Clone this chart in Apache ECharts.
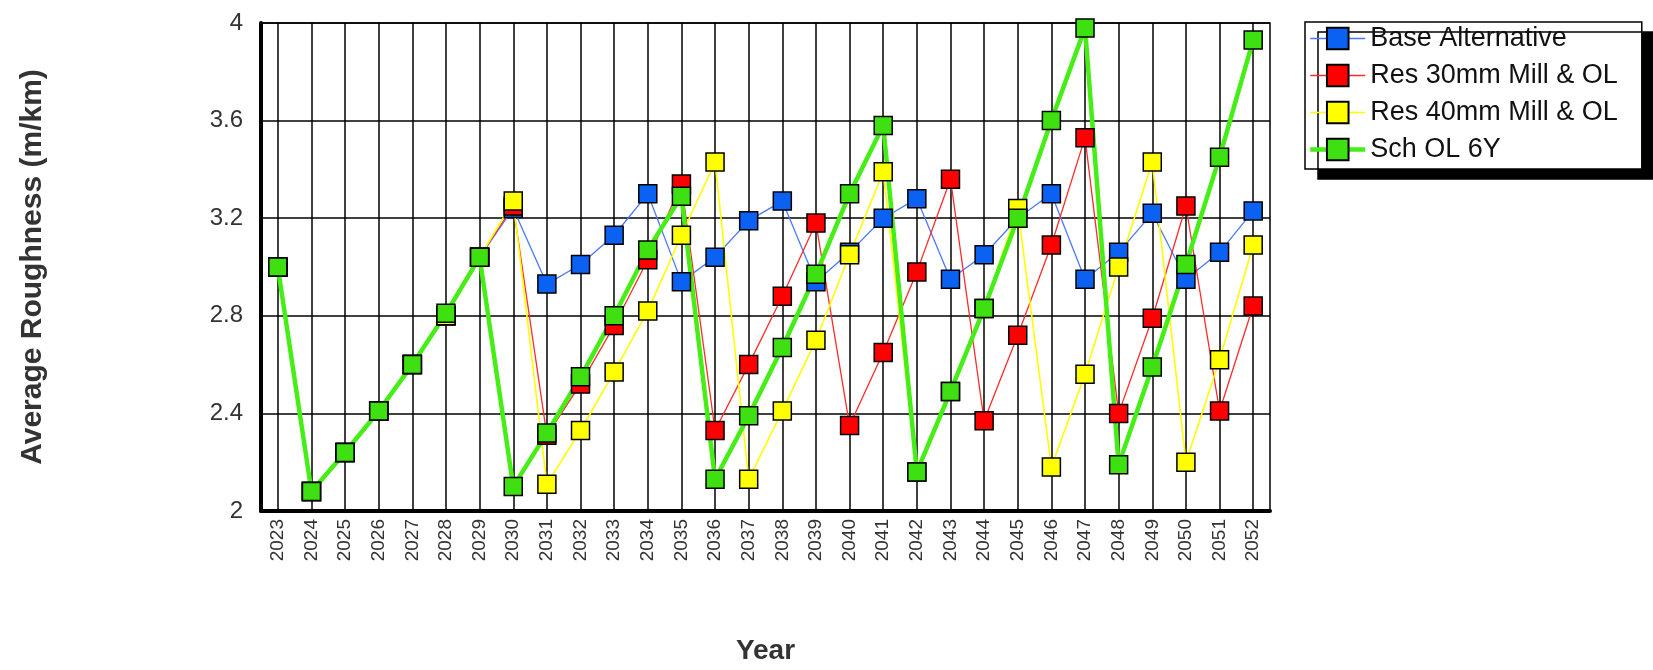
<!doctype html>
<html lang="en">
<head>
    <meta charset="UTF-8">
    <title>Average Roughness</title>
    <script src="https://cdn.jsdelivr.net/npm/echarts@6/dist/echarts.min.js"></script>
    <style>
        html, body { margin: 0; padding: 0; background: #fff; }
        #chart { width: 1653px; height: 670px; }
    </style>
</head>
<body>
<div id="chart"></div>
<script type="text/javascript">
    // years on the x axis
    var years = ['2023', '2024', '2025', '2026', '2027', '2028', '2029', '2030', '2031', '2032',
        '2033', '2034', '2035', '2036', '2037', '2038', '2039', '2040', '2041', '2042',
        '2043', '2044', '2045', '2046', '2047', '2048', '2049', '2050', '2051', '2052'];

    // values (m/km)
    var baseAlt = [3.00, 2.08, 2.24, 2.41, 2.60, 2.80, 3.04, 3.24, 2.93, 3.01,
        3.13, 3.30, 2.94, 3.04, 3.19, 3.27, 2.94, 3.06, 3.20, 3.28,
        2.95, 3.05, 3.20, 3.30, 2.95, 3.06, 3.22, 2.95, 3.06, 3.23];
    var res30 = [3.00, 2.08, 2.24, 2.41, 2.60, 2.80, 3.04, 3.25, 2.31, 2.52,
        2.76, 3.03, 3.34, 2.33, 2.60, 2.88, 3.18, 2.35, 2.65, 2.98,
        3.36, 2.37, 2.72, 3.09, 3.53, 2.40, 2.79, 3.25, 2.41, 2.84];
    var res40 = [3.00, 2.08, 2.24, 2.41, 2.60, 2.80, 3.04, 3.27, 2.11, 2.33,
        2.57, 2.82, 3.13, 3.43, 2.13, 2.41, 2.70, 3.05, 3.39, 2.16,
        2.49, 2.83, 3.24, 2.18, 2.56, 3.00, 3.43, 2.20, 2.62, 3.09];
    var schOL = [3.00, 2.08, 2.24, 2.41, 2.60, 2.81, 3.04, 2.10, 2.32, 2.55,
        2.80, 3.07, 3.29, 2.13, 2.39, 2.67, 2.97, 3.30, 3.58, 2.16,
        2.49, 2.83, 3.20, 3.60, 3.98, 2.19, 2.59, 3.01, 3.45, 3.93];

    var seriesNames = ['Base Alternative', 'Res 30mm Mill & OL', 'Res 40mm Mill & OL', 'Sch OL 6Y'];
    var lineWidths = [1.3, 1.3, 1.6, 4.5];

    var myChart = echarts.init(document.getElementById('chart'));

    //一条折线
    var makeLine = function (name, data, fill, stroke, width) {
        return {
            name: name,
            type: 'line',
            data: data,
            symbol: 'rect',
            symbolSize: 18,
            showAllSymbol: true,
            animation: false,
            itemStyle: { color: fill, borderColor: '#000', borderWidth: 1.5 },
            lineStyle: { color: stroke, width: width }
        };
    };

    var legendData = seriesNames.map(function (n, i) {
        return { name: n, lineStyle: { width: lineWidths[i] } };
    });

    var option = {
        backgroundColor: '#fff',
        animation: false,
        grid: {
            left: 261, right: 383, top: 23, bottom: 154,
            show: true, borderColor: '#000', borderWidth: 1.5
        },
        legend: {
            orient: 'vertical',
            left: 1305, top: 22,
            data: legendData,
            itemWidth: 55, itemHeight: 27, itemGap: 10,
            padding: [3, 24, 6, 3],
            backgroundColor: '#fff',
            borderColor: '#000', borderWidth: 1.5,
            shadowColor: '#000', shadowBlur: 0, shadowOffsetX: 13, shadowOffsetY: 10,
            textStyle: { fontFamily: 'Liberation Sans, Arial', fontSize: 27, lineHeight: 27, color: '#111' }
        },
        xAxis: {
            type: 'category',
            data: years,
            boundaryGap: true,
            name: 'Year',
            nameLocation: 'middle',
            nameGap: 126,
            nameTextStyle: { fontFamily: 'Liberation Sans, Arial', fontSize: 28, fontWeight: 'bold', color: '#333' },
            axisLine: { lineStyle: { color: '#000', width: 4 } },
            axisTick: { show: false },
            axisLabel: { rotate: 90, interval: 0, margin: 8, fontFamily: 'Liberation Sans, Arial', fontSize: 19, color: '#333' },
            splitLine: { show: true, interval: 0, alignWithLabel: true, lineStyle: { color: '#000', width: 1.5 } }
        },
        yAxis: {
            type: 'value',
            min: 2, max: 4, interval: 0.4,
            name: 'Average Roughness (m/km)',
            nameLocation: 'middle',
            nameGap: 213,
            nameTextStyle: { fontFamily: 'Liberation Sans, Arial', fontSize: 30, fontWeight: 'bold', color: '#333' },
            axisLine: { show: true, lineStyle: { color: '#000', width: 4 } },
            axisTick: { show: false },
            axisLabel: {
                margin: 18, fontFamily: 'Liberation Sans, Arial', fontSize: 24, color: '#333',
                formatter: function (v) { return String(Math.round(v * 10) / 10); }
            },
            splitLine: { show: true, lineStyle: { color: '#000', width: 1.5 } }
        },
        series: [
            makeLine(seriesNames[0], baseAlt, '#0b62f2', '#4a78ff', lineWidths[0]),
            makeLine(seriesNames[1], res30, '#ff0000', '#ff2a2a', lineWidths[1]),
            makeLine(seriesNames[2], res40, '#ffff00', '#ffff00', lineWidths[2]),
            makeLine(seriesNames[3], schOL, '#3fe012', '#45ee15', lineWidths[3])
        ]
    };
    myChart.setOption(option);
</script>
</body>
</html>
